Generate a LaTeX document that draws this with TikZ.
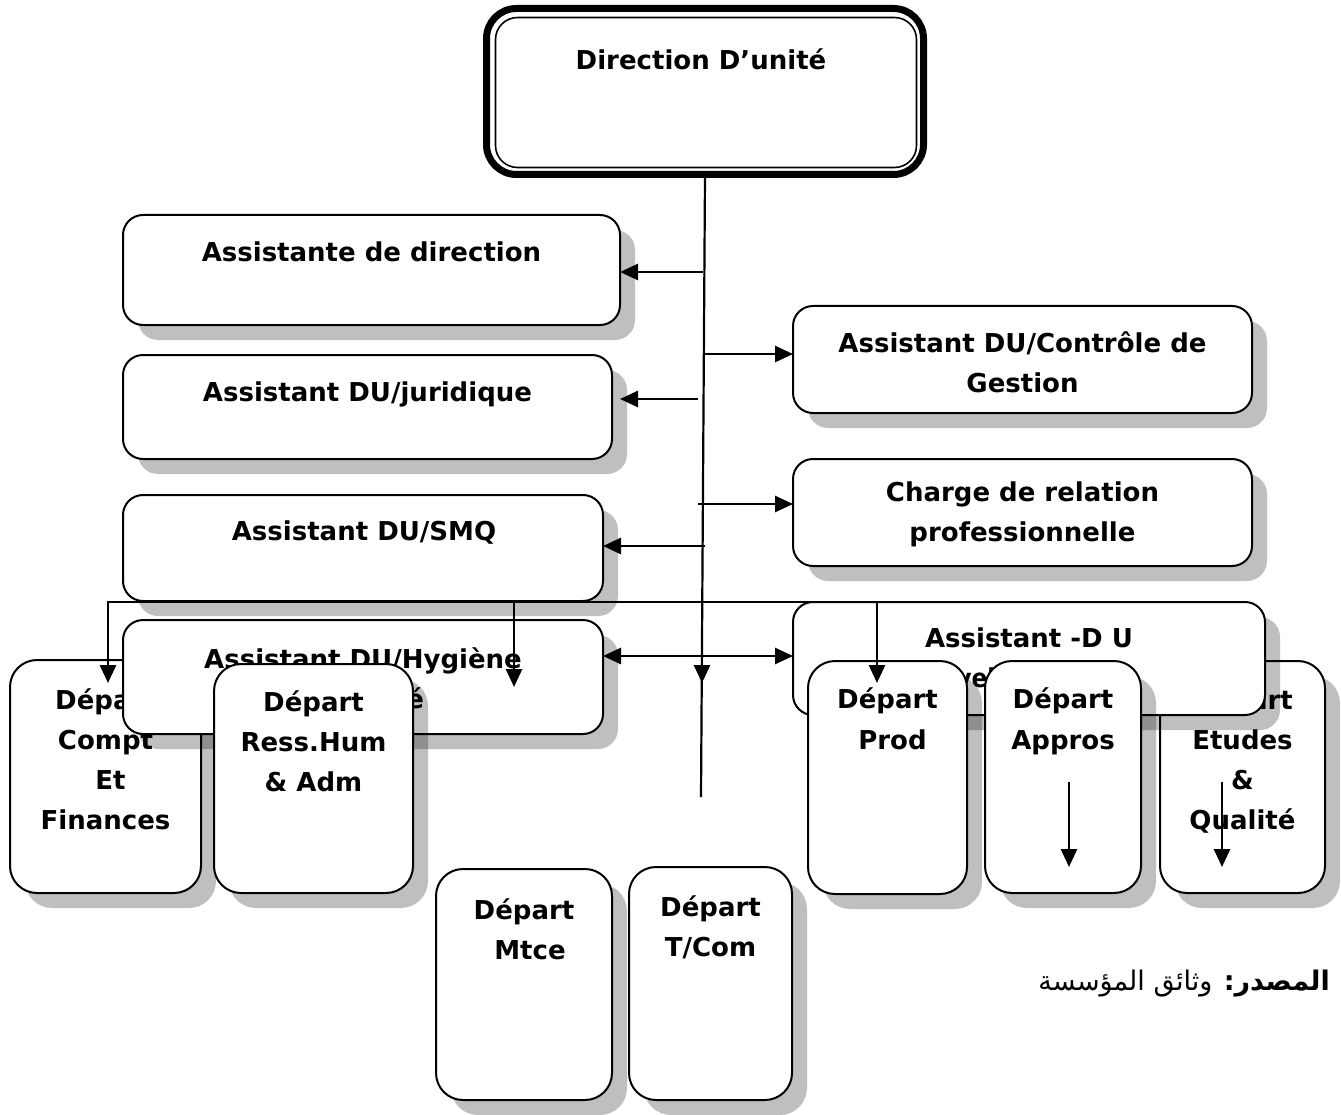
\documentclass[tikz,border=0pt]{standalone}
\usepackage{fontspec}
\setmainfont{DejaVu Sans}
\newfontfamily\arabicfont[Script=Arabic]{DejaVu Sans}
\TeXXeTstate=1
\usetikzlibrary{shadows,fit,arrows.meta}
\newcommand\lblfont{\bfseries\fontsize{26}{40}\selectfont}
\begin{document}
\begin{tikzpicture}[x=1pt,y=-1pt,
  box/.style={draw, line width=2pt, rounded corners=20pt, fill=white, inner sep=0pt, outer sep=0pt,
    drop shadow={shadow xshift=15pt, shadow yshift=-15pt, fill=black, opacity=0.25}},
  dbox/.style={box, rounded corners=27pt},
  dirbox/.style={draw, line width=7pt, rounded corners=30pt, fill=white, inner sep=0pt, outer sep=0pt},
  lbl/.style={font=\lblfont, align=center, anchor=north, inner sep=0pt},
  conn/.style={line width=2.2pt},
  arr/.style={line width=2.8pt, -{Triangle[length=18pt,width=16pt]}},
  arrb/.style={line width=2.8pt, {Triangle[length=18pt,width=16pt]}-{Triangle[length=18pt,width=16pt]}}
]
\useasboundingbox[fill=white] (0,0) rectangle (1341,1115);

% Direction
\node[dirbox, fit={(486.5,8.5)(923.5,174.5)}] (dir) {};
\draw[line width=1.6pt, rounded corners=22pt] ([shift={(9,9)}]dir.north west) rectangle ([shift={(-7,-7)}]dir.south east);
\node[lbl] (dirt) at (701,49) {Direction D’unité};

% left assistants
\node[box, fit={(123,215)(620,325)}] (asd) {};
\node[lbl] (asdt) at (371.5,242) {Assistante de direction};
\node[box, fit={(123,355)(612,459)}] (jur) {};
\node[lbl] (jurt) at (367.5,382) {Assistant DU/juridique};
\node[box, fit={(123,495)(603,601)}] (smq) {};
\node[lbl] (smqt) at (364,521) {Assistant DU/SMQ};

% right assistants
\node[box, fit={(793,306)(1252,413)}] (ctrl) {};
\node[lbl] (ctrlt) at (1022.5,332) {Assistant DU/Contrôle de\\Gestion};
\node[box, fit={(793,459)(1252,566)}] (chg) {};
\node[lbl] (chgt) at (1022.5,482) {Charge de relation\\professionnelle};

% departments and overlapping boxes
\node[dbox, fit={(10,660)(201,893)}] (compt) {};
\node[lbl] (comptt) at (105.5,688) {Départ\\Compt\\\hspace{10pt}Et\\Finances};
\node[box, fit={(123,620)(603,734)}] (hyg) {};
\node[lbl] (hygt) at (363,648) {Assistant DU/Hygiène\\Sécurité};
\node[dbox, fit={(214,664)(413,893)}] (ress) {};
\node[lbl] (resst) at (313.5,690) {Départ\\Ress.Hum\\\& Adm};
\node[dbox, fit={(1160,661)(1325,893)}] (etu) {};
\node[lbl] (etut) at (1242.5,688) {Départ\\Etudes\\\&\\Qualité};
\node[box, fit={(793,602)(1265,715)}] (adu) {};
\node[lbl] (adut) at (1029,628) {Assistant -D U\\\hspace{-8pt}\scalebox{0.9}[1]{Développement}};
\node[dbox, fit={(808,661)(967,894)}] (prod) {};
\node[lbl] (prodt) at (887.5,688) {Départ\\\hspace{10pt}Prod};
\node[dbox, fit={(985,661)(1141,893)}] (appr) {};
\node[lbl] (apprt) at (1063,688) {Départ\\Appros};
\node[dbox, fit={(436,869)(612,1100)}] (mtce) {};
\node[lbl] (mtcet) at (524,898) {Départ\\\hspace{12pt}Mtce};
\node[dbox, fit={(629,867)(792,1100)}] (tcom) {};
\node[lbl] (tcomt) at (710.5,895) {Départ\\T/Com};

% source
\node[anchor=base east, inner sep=0pt, font=\arabicfont\fontsize{27}{32}\selectfont] (src) at (1330,990)
  {\beginR\textbf{المصدر:} وثائق المؤسسة\endR};

% connectors
\coordinate (tend) at (701,797);
\draw[conn] (dir.south) -- (tend);
\coordinate (j1) at (703,272);
\draw[arr] (j1) -- (j1 -| asd.east);
\coordinate (j2) at (704,354);
\draw[arr] (j2) -- (j2 -| ctrl.west);
\coordinate (j3) at (698,399);
\draw[arr, shorten >=8pt] (j3) -- (j3 -| jur.east);
\coordinate (j4) at (698,504);
\draw[arr] (j4) -- (j4 -| chg.west);
\coordinate (j5) at (705,546);
\draw[arr] (j5) -- (j5 -| smq.east);
\coordinate (j6) at (702,656);
\draw[arrb] (j6 -| hyg.east) -- (j6 -| adu.west);

\coordinate (bl) at (108,602);
\coordinate (bc) at (514,602);
\coordinate (bm) at (702,602);
\coordinate (br) at (877,602);
\draw[conn, line cap=rect] (bl) -- (br);
\coordinate (tc) at (108,683);
\coordinate (tr) at (514,687);
\coordinate (tm) at (702,683);
\coordinate (tp) at (877,683);
\draw[arr] (bl) -- (tc);
\draw[arr] (bc) -- (tr);
\draw[arr] (bm) -- (tm);
\draw[arr] (br) -- (tp);

\coordinate (a1s) at (1069,782);
\coordinate (a1e) at (1069,867);
\coordinate (a2s) at (1222,782);
\coordinate (a2e) at (1222,867);
\draw[arr] (a1s) -- (a1e);
\draw[arr] (a2s) -- (a2e);
\end{tikzpicture}
\end{document}
